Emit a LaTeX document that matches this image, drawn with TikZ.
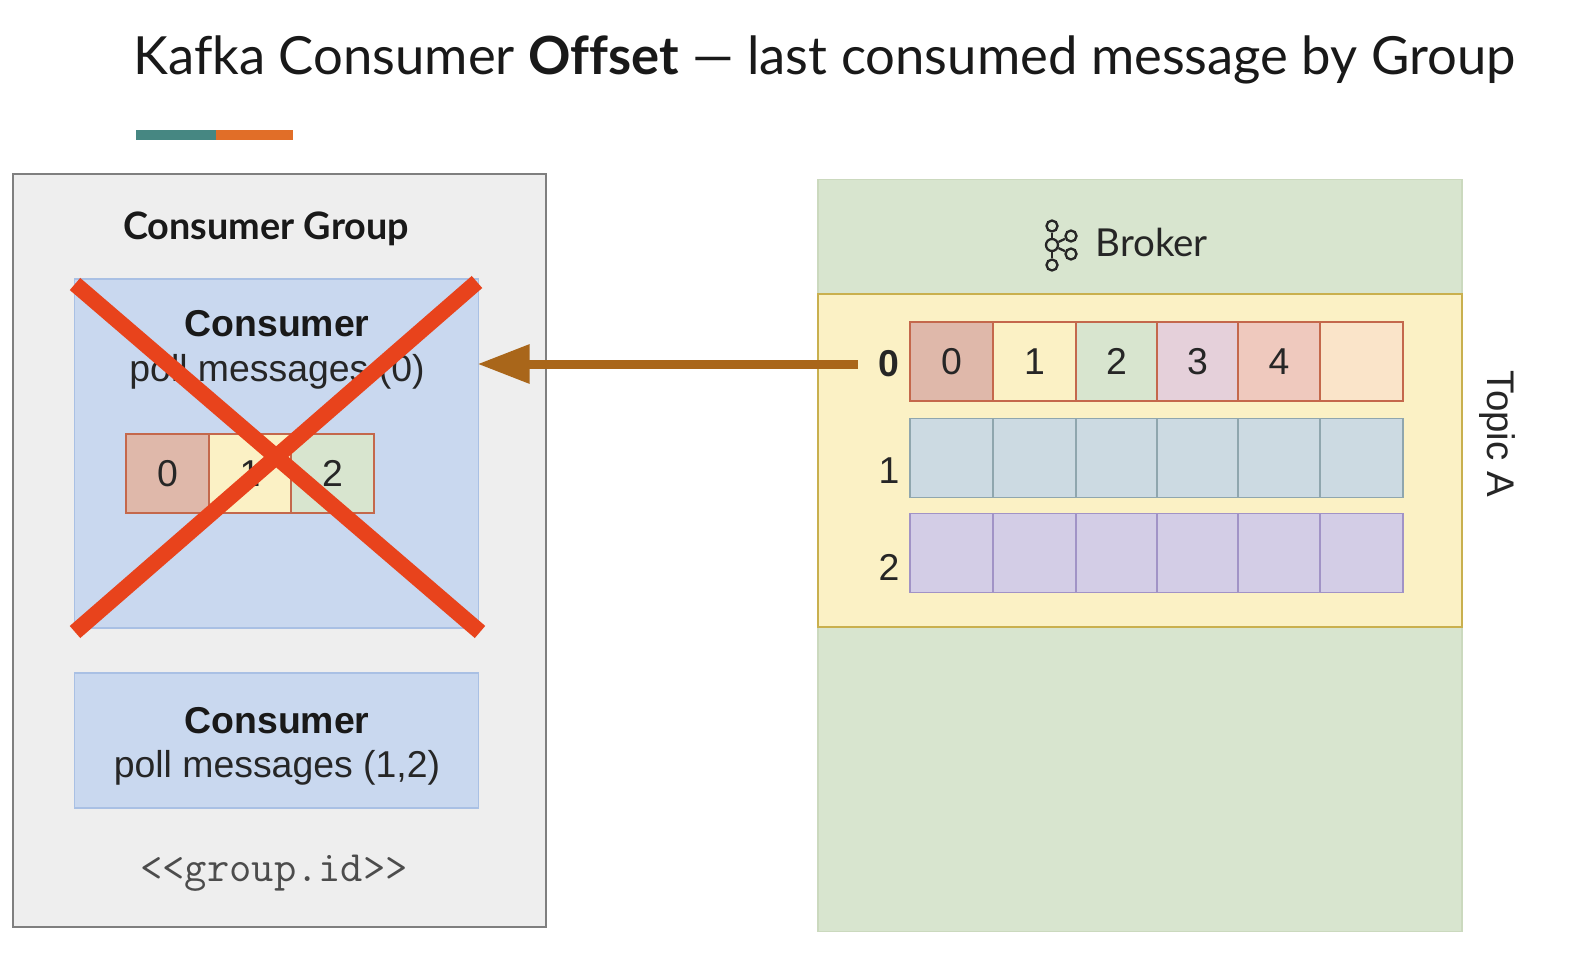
\documentclass[tikz,border=0pt]{standalone}
\usepackage{fontspec}
\setmainfont{Lato}[Ligatures={TeX,NoCommon}]
\newfontfamily\arialfont{Liberation Sans}
\usetikzlibrary{arrows.meta}
\definecolor{groupfill}{HTML}{EEEEEE}
\definecolor{groupline}{HTML}{7F7F7F}
\definecolor{consfill}{HTML}{C9D8EF}
\definecolor{consline}{HTML}{A9C0E4}
\definecolor{brokerfill}{HTML}{D8E5CF}
\definecolor{brokerline}{HTML}{CBD9BE}
\definecolor{topicfill}{HTML}{FBF1C5}
\definecolor{topicline}{HTML}{C9B04E}
\definecolor{redline}{HTML}{C4684C}
\definecolor{cellzero}{HTML}{DFB8AA}
\definecolor{cellthree}{HTML}{E5D0DA}
\definecolor{cellfour}{HTML}{EFC9BE}
\definecolor{cellfive}{HTML}{FAE4C9}
\definecolor{tealfill}{HTML}{CCDAE2}
\definecolor{tealline}{HTML}{8FA6AE}
\definecolor{purplefill}{HTML}{D3CDE6}
\definecolor{purpleline}{HTML}{A193C6}
\definecolor{crossred}{HTML}{E8431C}
\definecolor{arrowbrown}{HTML}{A9661A}
\definecolor{barteal}{HTML}{468782}
\definecolor{barorange}{HTML}{E16E28}
\begin{document}
\begin{tikzpicture}[
    x=1pt, y=-1pt,
    box/.style={rectangle, inner sep=0pt, outer sep=0pt},
    cell/.style={box, minimum height=79pt, line width=1.6pt, font=\arialfont\fontsize{37.4}{37}\selectfont, text=black!85},
    redcell/.style={cell, draw=redline, line width=2pt},
    tealcell/.style={cell, draw=tealline, fill=tealfill},
    purplecell/.style={cell, draw=purpleline, fill=purplefill},
    consumer/.style={box, draw=consline, line width=1.6pt, fill=consfill, minimum width=404pt},
    rowlabel/.style={font=\arialfont\fontsize{37.4}{37}\selectfont, text=black!85},
    crossline/.style={crossred, line width=16pt},
    knob/.style={circle, inner sep=0pt, minimum size=11pt, draw=black!85, line width=2.3pt}
]
    \useasboundingbox (0,0) rectangle (1591,960);
    \fill[white] (0,0) rectangle (1591,960);

    \node[anchor=west, font=\fontsize{52.6}{52}\selectfont, text=black!90] at (130,60) (title) {Kafka Consumer \textbf{Offset} --- last consumed message by Group};
    \node[box, fill=barteal, minimum width=80pt, minimum height=10pt] at (176,135) (bar1) {};
    \node[box, fill=barorange, minimum width=77pt, minimum height=10pt] at (254.5,135) (bar2) {};

    % left side
    \node[box, draw=groupline, line width=2pt, fill=groupfill, minimum width=533pt, minimum height=753pt] at (279.5,550.5) (group) {};
    \node[font=\fontsize{37.8}{37}\selectfont\bfseries, text=black!90] at (266,229) (grouptitle) {Consumer Group};
    \node[consumer, minimum height=349pt] at (276.5,453.5) (consumer1) {};
    \node[consumer, minimum height=135pt] at (276.5,740.5) (consumer2) {};
    \node[font=\arialfont\fontsize{37.4}{37}\selectfont\bfseries, text=black!90] at (277,324) (cname1) {Consumer};
    \node[font=\arialfont\fontsize{37.4}{37}\selectfont, text=black!85] at (277,372) (cpoll1) {poll messages (0)};
    \node[font=\arialfont\fontsize{37.4}{37}\selectfont\bfseries, text=black!90] at (277,721) (cname2) {Consumer};
    \node[font=\arialfont\fontsize{37.4}{37}\selectfont, text=black!85] at (277,768) (cpoll2) {poll messages (1,2)};
    \node[font=\ttfamily\fontsize{43.3}{43}\selectfont, text=black!70] at (274,873) (groupid) {<{}<group.id>{}>};

    \node[redcell, fill=cellzero, minimum width=83pt] at (167.5,473.5) (c0) {0};
    \node[redcell, fill=topicfill, minimum width=82pt] at (250,473.5) (c1) {1};
    \node[redcell, fill=brokerfill, minimum width=83pt] at (332.5,473.5) (c2) {2};

    \draw[crossline] (75,284) -- (480,632);
    \draw[crossline] (477,282) -- (75,632);

    % right side
    \node[box, draw=brokerline, line width=1.6pt, fill=brokerfill, minimum width=644pt, minimum height=752pt] at (1140,555.5) (broker) {};
    \node[box, draw=topicline, line width=2pt, fill=topicfill, minimum width=644pt, minimum height=333pt] at (1140,460.5) (topic) {};
    \node[anchor=west, font=\fontsize{38.5}{38}\selectfont, text=black!85] at (1092,242) (brokername) {Broker};

    % icon
    \node[knob, minimum size=12pt] at (1052,245) (k0) {};
    \node[knob] at (1052,226) (k1) {};
    \node[knob] at (1052,265) (k2) {};
    \node[knob] at (1071,236) (k3) {};
    \node[knob] at (1071,254) (k4) {};
    \draw[black!85, line width=2.3pt] (k0) -- (k1);
    \draw[black!85, line width=2.3pt] (k0) -- (k2);
    \draw[black!85, line width=2.3pt] (k0) -- (k3);
    \draw[black!85, line width=2.3pt] (k0) -- (k4);

    \node[rowlabel, font=\arialfont\fontsize{37.4}{37}\selectfont\bfseries] at (888.5,364) (row0) {0};
    \node[rowlabel] at (889,471) (row1) {1};
    \node[rowlabel] at (889,567) (row2) {2};

    \node[redcell, fill=cellzero, minimum width=83pt] at (951.5,361.5) (p00) {0};
    \node[redcell, fill=topicfill, minimum width=83pt] at (1034.5,361.5) (p01) {1};
    \node[redcell, fill=brokerfill, minimum width=81pt] at (1116.5,361.5) (p02) {2};
    \node[redcell, fill=cellthree, minimum width=81pt] at (1197.5,361.5) (p03) {3};
    \node[redcell, fill=cellfour, minimum width=82pt] at (1279,361.5) (p04) {4};
    \node[redcell, fill=cellfive, minimum width=83pt] at (1361.5,361.5) (p05) {};

    \node[tealcell, minimum width=83pt] at (951.5,458) (p10) {};
    \node[tealcell, minimum width=83pt] at (1034.5,458) (p11) {};
    \node[tealcell, minimum width=81pt] at (1116.5,458) (p12) {};
    \node[tealcell, minimum width=81pt] at (1197.5,458) (p13) {};
    \node[tealcell, minimum width=82pt] at (1279,458) (p14) {};
    \node[tealcell, minimum width=83pt] at (1361.5,458) (p15) {};

    \node[purplecell, minimum width=83pt] at (951.5,553) (p20) {};
    \node[purplecell, minimum width=83pt] at (1034.5,553) (p21) {};
    \node[purplecell, minimum width=81pt] at (1116.5,553) (p22) {};
    \node[purplecell, minimum width=81pt] at (1197.5,553) (p23) {};
    \node[purplecell, minimum width=82pt] at (1279,553) (p24) {};
    \node[purplecell, minimum width=83pt] at (1361.5,553) (p25) {};

    \node[rotate=-90, font=\arialfont\fontsize{38.5}{38}\selectfont, text=black!85] at (1497,434) (topicname) {Topic A};

    \coordinate (arrowfrom) at (858,364);
    \draw[-{Triangle[length=52pt, width=37pt]}, arrowbrown, line width=9pt, shorten >=-1pt] (arrowfrom) -- (consumer1.east |- arrowfrom);
\end{tikzpicture}
\end{document}
